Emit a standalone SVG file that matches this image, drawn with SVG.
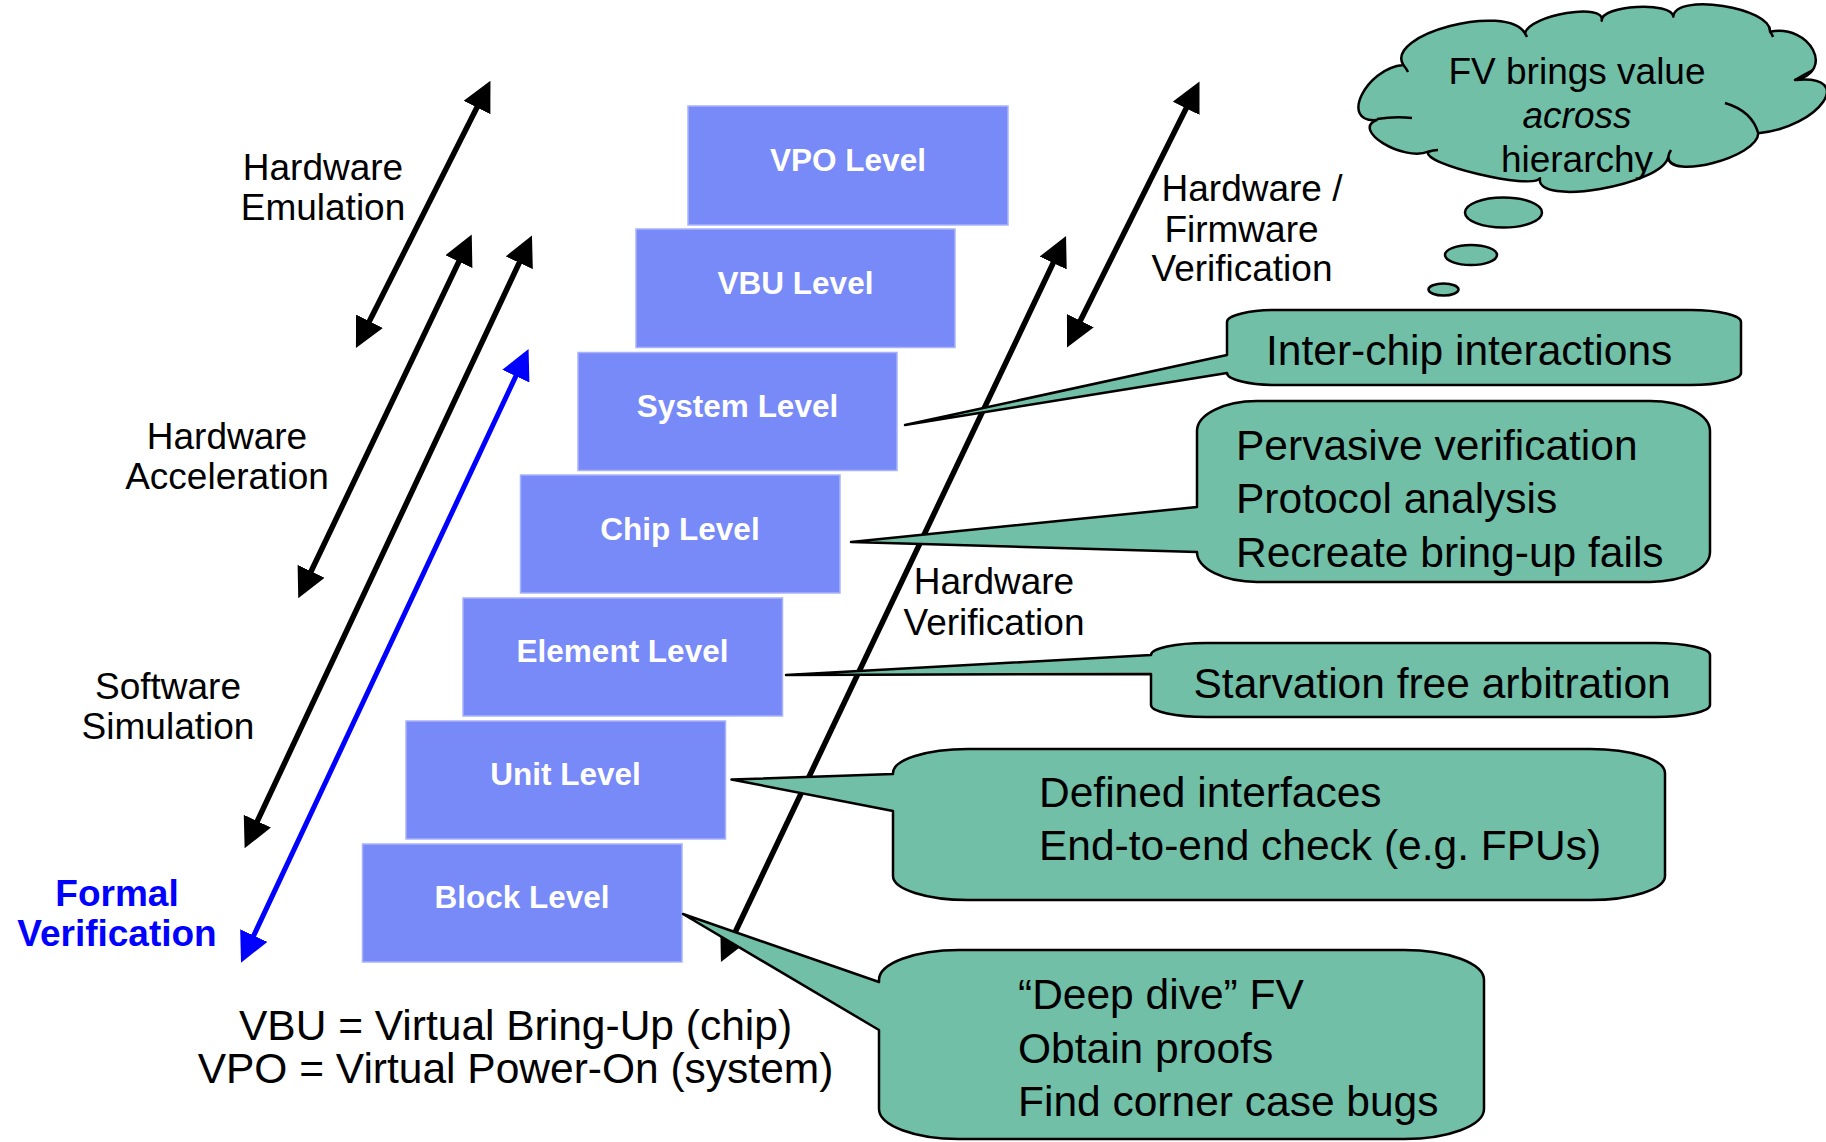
<svg xmlns="http://www.w3.org/2000/svg" width="1826" height="1142" viewBox="0 0 1826 1142">
  <style>
    text { font-family: "Liberation Sans", Arial, sans-serif; }
    .blk { fill: #7889F8; stroke: #a9b3fb; stroke-width: 1.5; }
    .blkt { font-size: 31.5px; font-weight: bold; fill: #ffffff; text-anchor: middle; }
    .lbl { font-size: 37px; fill: #000000; text-anchor: middle; }
    .fv { font-size: 37px; font-weight: bold; fill: #0000FF; text-anchor: middle; }
    .note { font-size: 42.5px; fill: #000000; }
    .foot { font-size: 42.5px; fill: #000000; text-anchor: middle; }
    .call { fill: #70BFA6; stroke: #000000; stroke-width: 2.5; stroke-linejoin: round; }
    .inner { fill: none; stroke: #000000; stroke-width: 2.5; }
    .conn { fill: none; stroke: #000000; stroke-width: 5.5; }
    .conn.blue { stroke: #0000FF; stroke-width: 5; }
  </style>
  <defs>
    <marker id="head" markerUnits="userSpaceOnUse" viewBox="0 0 30 30" markerWidth="30" markerHeight="30" refX="15" refY="15" orient="auto-start-reverse">
      <path d="M0,0 L30,15 L0,30 Z" fill="#000000"/>
    </marker>
    <marker id="headBlue" markerUnits="userSpaceOnUse" viewBox="0 0 30 30" markerWidth="30" markerHeight="30" refX="15" refY="15" orient="auto-start-reverse">
      <path d="M0,0 L30,15 L0,30 Z" fill="#0000FF"/>
    </marker>
  </defs>

  <rect width="1826" height="1142" fill="#ffffff"/>

  <!-- double-headed range arrows -->
  <g id="connectors">
    <line id="arrow-emulation" class="conn" x1="483.7" y1="94.1" x2="362.7" y2="334.6" marker-start="url(#head)" marker-end="url(#head)"/>
    <line id="arrow-acceleration" class="conn" x1="465.3" y1="248.1" x2="304.7" y2="584.8" marker-start="url(#head)" marker-end="url(#head)"/>
    <line id="arrow-simulation" class="conn" x1="525.6" y1="249.2" x2="251" y2="834.7" marker-start="url(#head)" marker-end="url(#head)"/>
    <line id="arrow-formal" class="conn blue" x1="522.2" y1="362.6" x2="247.4" y2="949.1" marker-start="url(#headBlue)" marker-end="url(#headBlue)"/>
    <line id="arrow-hw-verification" class="conn" x1="1059.6" y1="249.5" x2="727.4" y2="948.5" marker-start="url(#head)" marker-end="url(#head)"/>
    <line id="arrow-hw-fw-verification" class="conn" x1="1192.8" y1="94.9" x2="1073.7" y2="334.1" marker-start="url(#head)" marker-end="url(#head)"/>
  </g>

  <!-- hierarchy staircase -->
  <g id="level-vpo">
    <rect class="blk" x="688" y="106" width="320" height="119"/>
    <text class="blkt" x="848" y="171">VPO Level</text>
  </g>
  <g id="level-vbu">
    <rect class="blk" x="636" y="229" width="319" height="118.5"/>
    <text class="blkt" x="795.5" y="294">VBU Level</text>
  </g>
  <g id="level-system">
    <rect class="blk" x="578" y="352.5" width="319" height="118"/>
    <text class="blkt" x="737.5" y="417">System Level</text>
  </g>
  <g id="level-chip">
    <rect class="blk" x="520.5" y="475" width="319.5" height="118"/>
    <text class="blkt" x="680" y="540">Chip Level</text>
  </g>
  <g id="level-element">
    <rect class="blk" x="463" y="598" width="319.5" height="118"/>
    <text class="blkt" x="622.5" y="662">Element Level</text>
  </g>
  <g id="level-unit">
    <rect class="blk" x="406" y="721" width="319.5" height="118"/>
    <text class="blkt" x="565.5" y="785">Unit Level</text>
  </g>
  <g id="level-block">
    <rect class="blk" x="362.5" y="844" width="319.5" height="118"/>
    <text class="blkt" x="522" y="908">Block Level</text>
  </g>

  <!-- method labels -->
  <g id="label-emulation">
    <text class="lbl" x="323" y="180">Hardware</text>
    <text class="lbl" x="323" y="220">Emulation</text>
  </g>
  <g id="label-acceleration">
    <text class="lbl" x="227" y="449">Hardware</text>
    <text class="lbl" x="227" y="489">Acceleration</text>
  </g>
  <g id="label-simulation">
    <text class="lbl" x="168" y="698.5">Software</text>
    <text class="lbl" x="168" y="739">Simulation</text>
  </g>
  <g id="label-formal">
    <text class="fv" x="117" y="906">Formal</text>
    <text class="fv" x="117" y="946">Verification</text>
  </g>
  <g id="label-hw-fw-verification">
    <text class="lbl" x="1252" y="201">Hardware /</text>
    <text class="lbl" x="1241.5" y="241.5">Firmware</text>
    <text class="lbl" x="1242" y="280.5">Verification</text>
  </g>
  <g id="label-hw-verification">
    <text class="lbl" x="994" y="593.5">Hardware</text>
    <text class="lbl" x="994" y="634.5">Verification</text>
  </g>

  <!-- callouts -->
  <g id="callout-system">
    <path class="call" d="M1277,310 H1691 A50,12 0 0 1 1741,322 V373 A50,12 0 0 1 1691,385 H1277 A50,12 0 0 1 1227,373 L905,425 L1227,355 V322 A50,12 0 0 1 1277,310 Z"/>
    <text class="note" x="1266" y="365">Inter-chip interactions</text>
  </g>
  <g id="callout-chip">
    <path class="call" d="M1257,401 H1650 A60,30 0 0 1 1710,431 V552 A60,30 0 0 1 1650,582 H1257 A60,30 0 0 1 1197,552 L851,542 L1197,507 V431 A60,30 0 0 1 1257,401 Z"/>
    <text class="note" x="1236" y="459.5">Pervasive verification</text>
    <text class="note" x="1236" y="513">Protocol analysis</text>
    <text class="note" x="1236" y="567">Recreate bring-up fails</text>
  </g>
  <g id="callout-element">
    <path class="call" d="M1206,643 H1655 A55,12 0 0 1 1710,655 V705 A55,12 0 0 1 1655,717 H1206 A55,12 0 0 1 1151,705 V674 L786,675 L1151,655 A55,12 0 0 1 1206,643 Z"/>
    <text class="note" x="1193.5" y="698">Starvation free arbitration</text>
  </g>
  <g id="callout-unit">
    <path class="call" d="M968,749 H1590 A75,24 0 0 1 1665,773 V876 A75,24 0 0 1 1590,900 H968 A75,24 0 0 1 893,876 V811 L731.5,779.5 L893,774 V773 A75,24 0 0 1 968,749 Z"/>
    <text class="note" x="1039" y="806.5">Defined interfaces</text>
    <text class="note" x="1039" y="860">End-to-end check (e.g. FPUs)</text>
  </g>
  <g id="callout-block">
    <path class="call" d="M959,950 H1404 A80,30 0 0 1 1484,980 V1109 A80,30 0 0 1 1404,1139 H959 A80,30 0 0 1 879,1109 V1030 L683,914 L879,982 V980 A80,30 0 0 1 959,950 Z"/>
    <text class="note" x="1018" y="1009">“Deep dive” FV</text>
    <text class="note" x="1018" y="1062.5">Obtain proofs</text>
    <text class="note" x="1018" y="1116">Find corner case bugs</text>
  </g>

  <!-- thought cloud -->
  <g id="thought-cloud">
    <path class="call" d="M1376.7,120 C1339,123.3 1365.6,68.3 1403.3,65 C1384.4,34.1 1506.1,2.4 1525,33.3 C1529.5,14.6 1606.2,2 1601.7,20.7 C1600.6,5.1 1672.2,1.1 1673.3,16.7 C1675.1,-7.6 1771.8,7.4 1770,31.7 C1810.7,23.9 1835.7,72.2 1795,80 C1856.8,73.8 1820.1,127.1 1758.3,133.3 C1757.9,157.3 1667.9,180.7 1668.3,156.7 C1662.8,185.4 1534.5,207 1540,178.3 C1531.8,190.3 1420.1,163.7 1428.3,151.7 C1402.7,161.7 1351.1,130 1376.7,120 Z"/>
    <path class="inner" d="M1377,119 Q1395,116 1412,118 M1403.3,65 Q1406,68 1408,72 M1525,33.3 Q1526,35 1527,37 M1770,31.7 Q1772,34 1773,37 M1795,80 Q1805,74 1813,70 M1725,103 Q1752,111 1758.3,133.3 M1668.3,156.7 Q1669,153 1671,150 M1428.3,151.7 Q1433,150 1438,150"/>
    <text class="lbl" x="1577" y="83.5">FV brings value</text>
    <text class="lbl" x="1577" y="128" font-style="italic">across</text>
    <text class="lbl" x="1577" y="172">hierarchy</text>
    <ellipse class="call" cx="1503.5" cy="212.5" rx="38.5" ry="15"/>
    <ellipse class="call" cx="1471" cy="255" rx="26" ry="10"/>
    <ellipse class="call" cx="1443.5" cy="289.5" rx="15" ry="6"/>
  </g>

  <!-- abbreviation key -->
  <g id="legend">
    <text class="foot" x="515.5" y="1040">VBU = Virtual Bring-Up (chip)</text>
    <text class="foot" x="515.5" y="1083">VPO = Virtual Power-On (system)</text>
  </g>
</svg>
